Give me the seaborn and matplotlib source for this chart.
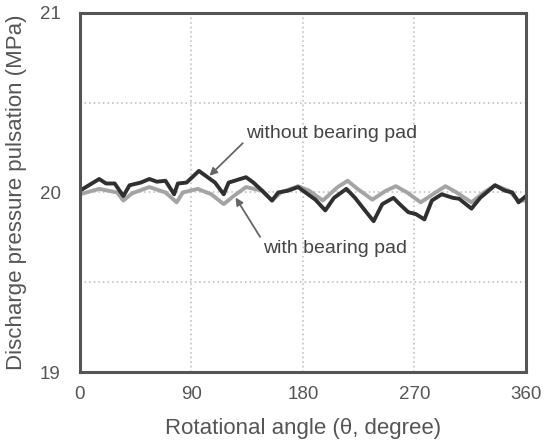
import numpy as np
import pandas as pd
import matplotlib
matplotlib.use("Agg")
import matplotlib.pyplot as plt
import seaborn as sns

# without bearing pad (dark)
angle_without = [0, 15.5, 21, 28, 35, 40, 49, 56, 62, 69, 76, 79, 86, 96, 103, 109, 116, 120,
                 134, 140, 147, 155, 160, 168, 176, 182, 190, 198, 205, 215, 222, 230, 237, 244,
                 253, 258, 265, 271, 278, 284, 292, 301, 306, 316, 323, 335, 343, 349, 354, 360]
p_without = [20.01, 20.075, 20.05, 20.05, 19.98, 20.04, 20.055, 20.075, 20.06, 20.065, 19.99, 20.05,
             20.055, 20.12, 20.085, 20.055, 19.99, 20.055, 20.085, 20.055, 20.01, 19.955, 20.0,
             20.01, 20.03, 20.0, 19.96, 19.9, 19.97, 20.02, 19.97, 19.9, 19.84, 19.935, 19.97,
             19.935, 19.89, 19.88, 19.85, 19.955, 19.99, 19.97, 19.965, 19.91, 19.97, 20.04,
             20.01, 20.0, 19.945, 19.98]

# with bearing pad (light)
angle_with = [0, 15.5, 30, 35, 42, 56, 69, 78, 83, 95, 106, 116, 124, 134, 147, 155, 162, 176,
              185, 196, 208, 216, 224, 236, 247, 255, 264, 275, 287, 295, 304, 316, 326, 335,
              346, 354, 360]
p_with = [19.99, 20.02, 20.0, 19.955, 19.995, 20.03, 20.0, 19.945, 20.0, 20.02, 19.99, 19.935,
          19.98, 20.03, 20.01, 19.955, 20.0, 20.035, 20.01, 19.955, 20.03, 20.065, 20.02, 19.96,
          20.01, 20.035, 20.0, 19.945, 20.0, 20.035, 20.0, 19.945, 20.0, 20.04, 20.01, 19.955,
          19.955]

x_ticks = [0, 90, 180, 270, 360]
y_ticks = [19, 19.5, 20, 20.5, 21]
y_ticklabels = ["19", "", "20", "", "21"]

df = pd.concat([
    pd.DataFrame({"angle": angle_with, "p": p_with, "case": "with bearing pad"}),
    pd.DataFrame({"angle": angle_without, "p": p_without, "case": "without bearing pad"}),
])

sns.set_theme(style="white")
plt.rcParams["font.family"] = ["Liberation Sans", "DejaVu Sans"]

fig = plt.figure(figsize=(5.49, 4.45), dpi=100)
ax = fig.add_axes([0.1457, 0.164, 0.8124, 0.807])

sns.lineplot(data=df, x="angle", y="p", hue="case",
             palette={"with bearing pad": "#a4a4a4", "without bearing pad": "#303030"},
             linewidth=2.8, legend=False, ax=ax, sort=False, estimator=None)

ax.set_xlim(0, 360)
ax.set_ylim(19, 21)
ax.set_xticks(x_ticks)
ax.set_yticks(y_ticks)
ax.set_yticklabels(y_ticklabels)
ax.grid(True, linestyle=(0, (1, 2)), color="#b8b8b8", linewidth=1.1)
ax.tick_params(axis="both", length=0, labelsize=13.5, labelcolor="#555555")
ax.tick_params(axis="x", pad=10)
ax.tick_params(axis="y", pad=14)
for s in ax.spines.values():
    s.set_color("#555555")
    s.set_linewidth(2.2)

ax.set_xlabel("Rotational angle (\u03b8, degree)", fontsize=16, color="#555555", labelpad=11)
ax.set_ylabel("Discharge pressure pulsation (MPa)", fontsize=16, color="#555555", labelpad=9)

ax.annotate("without bearing pad", xy=(104.5, 20.093), xytext=(134, 20.33),
            fontsize=14, color="#444444", ha="left", va="center",
            arrowprops=dict(arrowstyle="-|>", color="#666666", lw=1.3,
                            shrinkA=0, shrinkB=0, mutation_scale=11,
                            relpos=(0, 0.1)))
ax.annotate("with bearing pad", xy=(125.6, 19.972), xytext=(148, 19.69),
            fontsize=14, color="#444444", ha="left", va="center",
            arrowprops=dict(arrowstyle="-|>", color="#666666", lw=1.3,
                            shrinkA=0, shrinkB=0, mutation_scale=11,
                            relpos=(0, 0.85)))

fig.savefig("out.png", dpi=100)
